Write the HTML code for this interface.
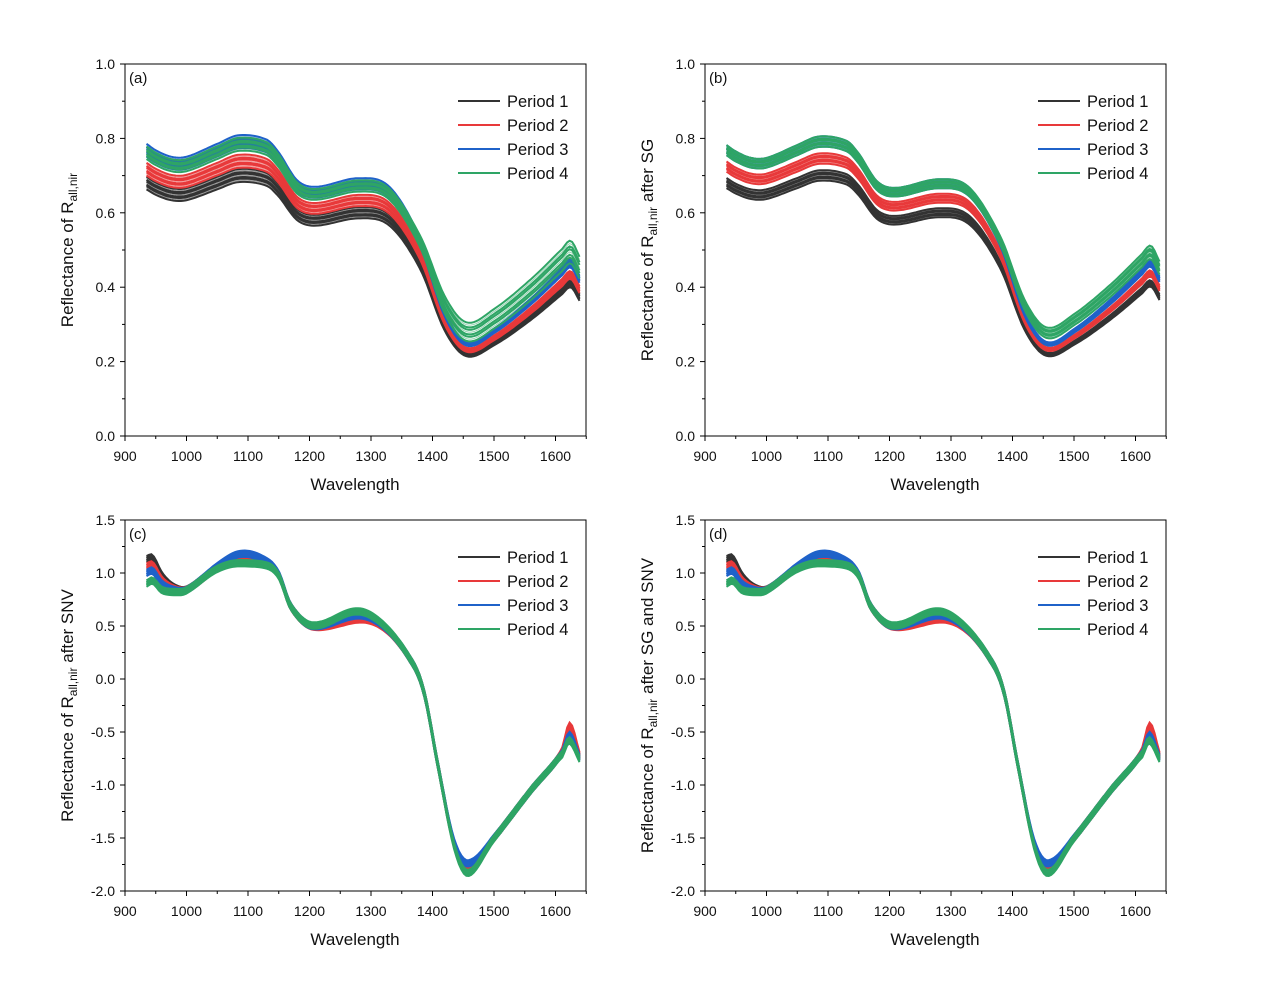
<!DOCTYPE html>
<html><head><meta charset="utf-8"><style>
body{margin:0;background:#fff;}
svg text{font-family:"Liberation Sans",Arial,sans-serif;fill:#111;}
</style></head><body>
<svg id="s" width="1267" height="984" xmlns="http://www.w3.org/2000/svg"></svg>
<script>
const S=document.getElementById('s');let h='';
const cols=['#333333','#e8393a','#1f62c9','#2ea565'];
function cr(pts){
 return function(x){let i=0;while(i<pts.length-2&&pts[i+1][0]<x)i++;
 const p0=pts[Math.max(i-1,0)],p1=pts[i],p2=pts[i+1],p3=pts[Math.min(i+2,pts.length-1)];
 const t=(x-p1[0])/(p2[0]-p1[0]);
 const m1=(p2[1]-p0[1])/(p2[0]-p0[0])*(p2[0]-p1[0]),m2=(p3[1]-p1[1])/(p3[0]-p1[0])*(p2[0]-p1[0]);
 const t2=t*t,t3=t2*t;return (2*t3-3*t2+1)*p1[1]+(t3-2*t2+t)*m1+(-2*t3+3*t2)*p2[1]+(t3-t2)*m2;};}
const g=(w,c,s)=>{const z=(w-c)/s;return Math.exp(-(z*z));};
const sg=(w,c,s)=>1/(1+Math.exp(-(w-c)/s));
const rawA=cr([[935,0.68],[950,0.665],[975,0.65],[1000,0.65],[1050,0.68],[1085,0.70],[1130,0.69],[1150,0.66],[1180,0.595],[1210,0.58],[1280,0.60],[1330,0.58],[1380,0.46],[1420,0.29],[1455,0.22],[1500,0.25],[1560,0.32],[1610,0.39],[1625,0.41],[1640,0.37]]);
const snvBase=cr([[935,1.0],[945,1.02],[960,0.9],[980,0.84],[1000,0.84],[1050,1.05],[1085,1.13],[1130,1.09],[1150,0.98],[1170,0.68],[1205,0.5],[1280,0.6],[1320,0.5],[1360,0.22],[1385,-0.1],[1410,-0.85],[1435,-1.55],[1458,-1.78],[1500,-1.5],[1560,-1.05],[1610,-0.7],[1623,-0.5],[1640,-0.75]]);
function panel(ox,oy,ymin,ymax,yh,ticks,minor,label,ytitle,fn,leg){
 const X=w=>ox+(w-900)*0.615, Y=v=>oy+(ymax-v)/(ymax-ymin)*yh;
 for(let p=0;p<4;p++){for(let k=0;k<9;k++){let d='';
  for(let w=935;w<=1640;w+=4){const v=fn(w,p,(k-4)/4);d+=(w==935?'M':'L')+X(w).toFixed(1)+','+Y(v).toFixed(1);}
  h+=`<path d="${d}" fill="none" stroke="${cols[p]}" stroke-width="${k%3==1?1:2}" ${k%3==1?'stroke-opacity="0.5"':''}/>`;}}
 h+=`<rect x="${ox}" y="${oy}" width="461" height="${yh}" fill="none" stroke="#000" stroke-width="1"/>`;
 for(let w=900;w<=1600;w+=100){h+=`<line x1="${X(w)}" y1="${oy+yh}" x2="${X(w)}" y2="${oy+yh+5}" stroke="#000"/><text x="${X(w)}" y="${oy+yh+25}" font-size="14" text-anchor="middle">${w}</text>`;
  h+=`<line x1="${X(w+50)}" y1="${oy+yh}" x2="${X(w+50)}" y2="${oy+yh+3}" stroke="#000"/>`;}
 ticks.forEach(v=>{h+=`<line x1="${ox-5}" y1="${Y(v)}" x2="${ox}" y2="${Y(v)}" stroke="#000"/><text x="${ox-10}" y="${Y(v)+5}" font-size="14" text-anchor="end">${v.toFixed(1)}</text>`;});
 minor.forEach(v=>{h+=`<line x1="${ox-3}" y1="${Y(v)}" x2="${ox}" y2="${Y(v)}" stroke="#000"/>`;});
 h+=`<text x="${ox+4}" y="${oy+19}" font-size="15">${label}</text>`;
 h+=`<text x="${ox+230}" y="${oy+yh+54}" font-size="17" text-anchor="middle">Wavelength</text>`;
 const cy=oy+yh/2;
 h+=`<text transform="translate(${ox-52},${cy}) rotate(-90)" font-size="17" text-anchor="middle">${ytitle}</text>`;
 for(let i=0;i<4;i++){const y=leg+i*24;h+=`<line x1="${ox+333}" y1="${y}" x2="${ox+375}" y2="${y}" stroke="${cols[i]}" stroke-width="2"/><text x="${ox+382}" y="${y+6}" font-size="16.5">Period ${i+1}</text>`;}
}
const fA=(w,p,k)=>{const f=[1,1.055,1.13,1.12][p]+k*0.025;let v=rawA(w)*f;if(p==3)v+=(0.035+k*0.02)*sg(w,1400,15);return v;};
const fB=(w,p,k)=>{const f=[1,1.065,1.13,1.13][p]+k*0.02;let v=rawA(w)*f;if(p==3)v+=(0.03+k*0.01)*sg(w,1400,15);return v;};
const fC=(w,p,k)=>{let v=snvBase(w)+k*0.03;
 v+=[0.13,0.06,0,-0.1][p]*g(w,935,35);
 v+=[0,0,0.05,-0.04][p]*g(w,1095,40);
 v+=[0,-0.04,0,0.04][p]*g(w,1270,45);
 v+=[0,0,0.04,-0.05][p]*g(w,1458,25);
 v+=[0,0.06,-0.03,-0.08][p]*g(w,1625,12);return v;};
const ytA=[0,0.2,0.4,0.6,0.8,1.0],mnA=[0.1,0.3,0.5,0.7,0.9];
const ytC=[-2,-1.5,-1,-0.5,0,0.5,1,1.5],mnC=[-1.75,-1.25,-0.75,-0.25,0.25,0.75,1.25];
const rl='Reflectance of R<tspan font-size="12" dy="4">all,nir</tspan><tspan dy="-4">';
panel(125,64,0,1,372,ytA,mnA,'(a)',rl+'</tspan>',fA,101);
panel(705,64,0,1,372,ytA,mnA,'(b)',rl+' after SG</tspan>',fB,101);
panel(125,520,-2,1.5,371,ytC,mnC,'(c)',rl+' after SNV</tspan>',fC,557);
panel(705,520,-2,1.5,371,ytC,mnC,'(d)',rl+' after SG and SNV</tspan>',fC,557);
S.innerHTML=h;
</script>
</body></html>
